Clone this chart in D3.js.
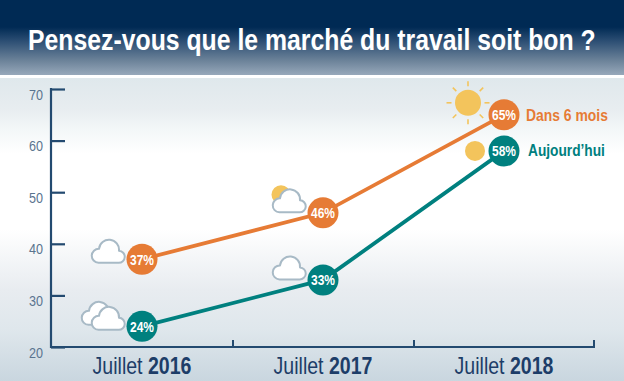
<!DOCTYPE html>
<html><head><meta charset="utf-8">
<script src="https://cdn.jsdelivr.net/npm/d3@7"></script>
<style>html,body{margin:0;padding:0;background:#fff}svg{display:block}
text{font-family:"Liberation Sans",sans-serif}</style>
</head><body><svg id="c" width="624" height="381"></svg>
<script>
const title = "Pensez-vous que le marché du travail soit bon ?";
const years = ["2016","2017","2018"];
const monthLabel = "Juillet";
const yTicks = [20,30,40,50,60,70];
const sixMonths = [37,46,65];
const today = [24,33,58];
const sixMonthsName = "Dans 6 mois";
const todayName = "Aujourd’hui";
const orange = "#e67b35", teal = "#00807f", navy = "#234a70";

const svg = d3.select("#c");
const defs = svg.append("defs");
function grad(id, stops){
  const g = defs.append("linearGradient").attr("id",id).attr("x1",0).attr("x2",0).attr("y1",0).attr("y2",1);
  stops.forEach(s=>g.append("stop").attr("offset",s[0]).attr("stop-color",s[1]));
}
grad("head",[[0,"#002a54"],[0.36,"#002a54"],[0.55,"#2d4f74"],[0.8,"#6a8198"],[1,"#97a8ba"]]);
grad("body",[[0,"#dfe8ec"],[0.105,"#e8edf0"],[0.17,"#f3f7f8"],[0.25,"#ffffff"],[0.5,"#ffffff"],[0.7,"#e8ecf0"],[0.83,"#dfe7ec"],[1,"#c9d6df"]]);
svg.append("rect").attr("width",624).attr("height",75).attr("fill","url(#head)");
svg.append("rect").attr("y",75).attr("width",624).attr("height",3).attr("fill","#fff");
svg.append("rect").attr("y",78).attr("width",624).attr("height",303).attr("fill","url(#body)");

// squeeze a text horizontally to the condensed width of the reference face
function place(sel, px, py, width){
  sel.attr("x",0).attr("y",0).attr("dy",null);
  const w = sel.node().getComputedTextLength();
  sel.attr("transform",`translate(${px},${py}) scale(${width/w},1)`);
  return sel;
}

place(svg.append("text").attr("fill","#fff").attr("font-size",29).attr("font-weight",700).text(title),28,50,568);

const y = d3.scaleLinear().domain([20,70]).range([347,89]);
const x = d3.scaleBand().domain(years).range([51,594]);
const cx = d => x(d)+x.bandwidth()/2+0.5;

// y axis
const ga = svg.append("g").attr("transform","translate(51,0)")
  .call(d3.axisLeft(y).tickValues(yTicks).tickSize(-14));
ga.select(".domain").attr("stroke",navy).attr("stroke-width",2.2).attr("d","M0,88V348");
ga.selectAll(".tick line").attr("stroke",navy).attr("stroke-width",2.2);
ga.selectAll(".tick text").each(function(){
  const t = d3.select(this).attr("text-anchor","end").attr("fill","#5a748f").attr("font-size",15);
  place(t,-8,10,14);
});

// x axis
const gx = svg.append("g").attr("transform","translate(0,347)");
gx.append("path").attr("fill","none").attr("stroke",navy).attr("stroke-width",1.8).attr("d",d3.line()([[x.range()[0],0],[x.range()[1]+1,0]]));
years.forEach(d=>{
  const ex = x(d)+x.bandwidth()+(d==="2018"?0:1);
  gx.append("line").attr("x1",ex).attr("x2",ex).attr("y1",-7).attr("y2",0).attr("stroke",navy).attr("stroke-width",2);
  const t = svg.append("text").attr("text-anchor","middle").attr("font-size",23).attr("fill","#1d3d68");
  t.append("tspan").text(monthLabel+" ");
  t.append("tspan").attr("font-weight",700).text(d);
  place(t,cx(d),374,99);
});

// weather icons: [year, value the icon hangs from, dx, dy, size]
const cloudPath = "M-9.5,10.5A7,7 0 0 1 -9,-3.5A10.05,10.05 0 0 1 11,-1.5A6,6 0 0 1 10.5,10.5Z";
const sunsPlain = [["2017",46,-42,-18,9.5],["2018",58,-29,0,10]];
const sunsRays = [["2018",65,-36,-12,13]];
const clouds = [["2016",24,-44,-12],["2016",24,-34,-7],["2016",37,-34,-7],["2017",46,-34,-11],["2017",33,-34,-11]];
const sy = d => y(d);
sunsPlain.forEach(s=>svg.append("circle").attr("cx",cx(s[0])+s[2]).attr("cy",sy(s[1])+s[3]).attr("r",s[4]).attr("fill","#f3c45c"));
sunsRays.forEach(s=>{
  const g = svg.append("g").attr("transform",`translate(${cx(s[0])+s[2]},${sy(s[1])+s[3]})`);
  g.append("circle").attr("r",s[4]).attr("fill","#f3c45c");
  d3.range(8).forEach(i=>{
    const a=i*Math.PI/4;
    g.append("line").attr("x1",16.5*Math.cos(a)).attr("y1",16.5*Math.sin(a))
      .attr("x2",21.5*Math.cos(a)).attr("y2",21.5*Math.sin(a))
      .attr("stroke","#f3c45c").attr("stroke-width",1.6);
  });
});
clouds.forEach(c=>{
  svg.append("path").attr("d",cloudPath)
    .attr("transform",`translate(${cx(c[0])+c[2]},${sy(c[1])+c[3]})`)
    .attr("fill","#fff").attr("stroke","#a8bac6").attr("stroke-width",2).attr("stroke-linejoin","round");
});

// series
const line = d3.line().x((d,i)=>cx(years[i])).y(d=>y(d));
function series(vals,col){
  svg.append("path").attr("d",line(vals)).attr("fill","none").attr("stroke",col).attr("stroke-width",3.8);
  vals.forEach((v,i)=>{
    svg.append("circle").attr("cx",cx(years[i])).attr("cy",y(v)).attr("r",15.5).attr("fill",col);
    const t = svg.append("text").attr("text-anchor","middle")
      .attr("fill","#fff").attr("font-size",15).attr("font-weight",700).text(v+"%");
    place(t,cx(years[i]),y(v)+5.5,24);
  });
}
series(sixMonths,orange);
series(today,teal);
place(svg.append("text").attr("fill",orange).attr("font-size",17).attr("font-weight",700).text(sixMonthsName),526,y(65)+6,82);
place(svg.append("text").attr("fill",teal).attr("font-size",17).attr("font-weight",700).text(todayName),528,y(58)+5,77);
</script></body></html>
